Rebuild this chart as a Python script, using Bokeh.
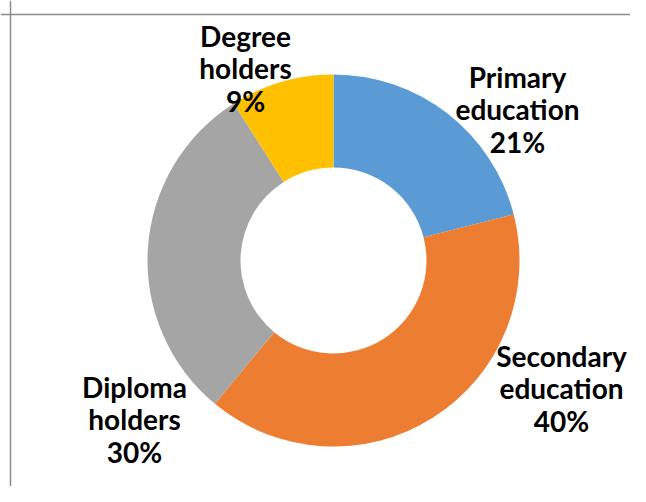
import numpy as np
from bokeh.plotting import figure
from bokeh.models import Range1d, Span, ColumnDataSource
from bokeh.core.properties import value
from bokeh.embed import file_html
from bokeh.resources import INLINE

# ---- data ----
categories = ["Primary\neducation", "Secondary\neducation", "Diploma\nholders", "Degree\nholders"]
shares = [21, 40, 30, 9]
colors = ["#5B9BD5", "#ED7D31", "#A5A5A5", "#FFC000"]

# ---- layout (pixel-like coordinates, y up) ----
W, H = 630, 486
IMG_H = 502
cx, cy = 333, IMG_H - 260
r_out, r_in = 186, 93
label_pos = [(517, IMG_H - 109), (561, IMG_H - 388), (134, IMG_H - 419), (245, IMG_H - 68)]

vals = np.array(shares, dtype=float)
frac = vals / vals.sum()
cum = np.concatenate([[0], np.cumsum(frac)])
start = np.pi / 2 - 2 * np.pi * cum[:-1]
end = np.pi / 2 - 2 * np.pi * cum[1:]

src = ColumnDataSource(dict(start=start, end=end, color=colors))

p = figure(width=W, height=H, output_backend="svg", toolbar_location=None,
           x_range=Range1d(0, W), y_range=Range1d(IMG_H - H, IMG_H),
           min_border=0, outline_line_color=None)
p.axis.visible = False
p.grid.visible = False
p.background_fill_color = "white"
p.border_fill_color = "white"

# chart area border (top and left visible)
p.add_layout(Span(location=IMG_H - 14, dimension="width", line_color="#8C8C8C", line_width=1.5))
p.add_layout(Span(location=10, dimension="height", line_color="#8C8C8C", line_width=1.5))

p.annular_wedge(x=cx, y=cy, inner_radius=r_in, outer_radius=r_out,
                start_angle="start", end_angle="end", direction="clock",
                fill_color="color", line_color=None, source=src)

labels = [f"{c}\n{s}%" for c, s in zip(categories, shares)]
lsrc = ColumnDataSource(dict(x=[q[0] for q in label_pos], y=[q[1] for q in label_pos], t=labels))
p.text(x="x", y="y", text="t", source=lsrc, text_font=value("Lato"),
       text_font_style="bold", text_font_size="28px", text_color="#000000",
       text_align="center", text_baseline="middle", text_line_height=0.95)

open("out.html", "w").write(file_html(p, INLINE))
